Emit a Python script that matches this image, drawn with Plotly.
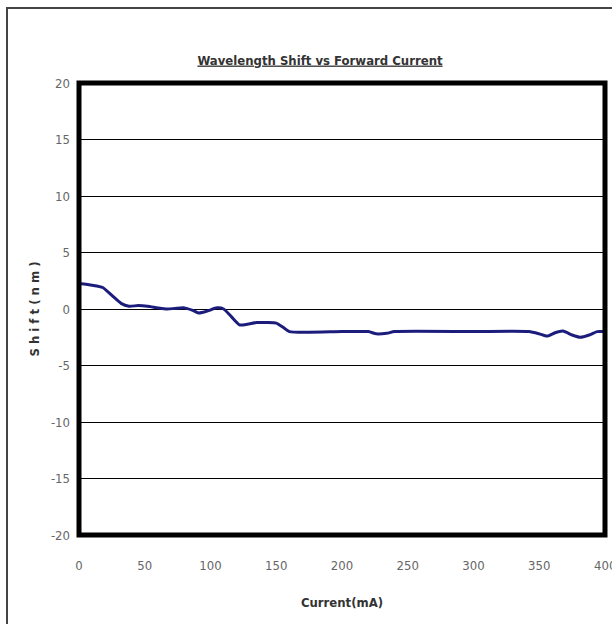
import plotly.graph_objects as go

current = [0, 10, 18, 25, 32, 38, 45, 52, 60, 67, 73, 80, 86, 91, 97, 105, 110,
           116, 122, 128, 135, 143, 150, 155, 160, 200, 220, 226, 234, 240, 300,
           342, 350, 356, 362, 368, 375, 381, 388, 394, 400]
shift = [2.25, 2.1, 1.9, 1.2, 0.5, 0.25, 0.3, 0.25, 0.1, 0.0, 0.05, 0.1, -0.1,
         -0.35, -0.2, 0.1, 0.0, -0.7, -1.4, -1.35, -1.2, -1.2, -1.25, -1.6, -2.0,
         -2.0, -2.0, -2.2, -2.15, -2.0, -2.0, -2.0, -2.2, -2.4, -2.1, -1.95, -2.3,
         -2.5, -2.3, -2.0, -2.0]

x_ticks = [0, 50, 100, 150, 200, 250, 300, 350, 400]
y_ticks = [-20, -15, -10, -5, 0, 5, 10, 15, 20]

FONT = "Liberation Sans Narrow, DejaVu Sans Condensed, Arial Narrow, Liberation Sans, sans-serif"

fig = go.Figure()
fig.add_trace(go.Scatter(
    x=current, y=shift, mode="lines",
    line=dict(color="#1c1c7c", width=3, shape="spline", smoothing=0.6),
    hoverinfo="skip", showlegend=False,
))

# last tick label (plotly drops it at the edge); reference shows it clipped
fig.add_annotation(
    x=x_ticks[-1], y=0, xref="x", yref="paper", yshift=-30,
    text=str(x_ticks[-1]), showarrow=False, xanchor="center", yanchor="middle",
    font=dict(family=FONT, size=13, color="#666666"),
)

fig.update_layout(
    width=612, height=624,
    margin=dict(l=79, r=7, t=83, b=89),
    paper_bgcolor="white", plot_bgcolor="white",
    font=dict(family=FONT, color="#555555", size=12),
    title=dict(
        text="<u><b>Wavelength Shift vs Forward Current</b></u>",
        x=320 / 612, xanchor="center", y=1 - 60 / 624, yanchor="middle",
        font=dict(family=FONT, size=13, color="#333333"),
    ),
    xaxis=dict(
        range=[0, 400], tickvals=x_ticks[:-1], ticktext=[str(v) for v in x_ticks[:-1]],
        showgrid=False, zeroline=False, showline=False, ticks="",
        ticklabelstandoff=21,
        title=dict(text="<b>Current(mA)</b>", standoff=25,
                   font=dict(family=FONT, size=13, color="#333333")),
        tickfont=dict(family=FONT, size=13, color="#666666"),
    ),
    yaxis=dict(
        range=[-20, 20], tickvals=y_ticks, ticktext=[str(v) for v in y_ticks],
        showgrid=True, gridcolor="#000000", gridwidth=1.3,
        zeroline=False, showline=False, ticks="",
        ticklabelstandoff=8,
        title=dict(text="<b>S h i f t ( n m )</b>", standoff=8,
                   font=dict(family=FONT, size=13, color="#333333")),
        tickfont=dict(family=FONT, size=13, color="#666666"),
    ),
    shapes=[
        dict(type="rect", xref="paper", yref="paper", x0=0, x1=1, y0=0, y1=1,
             line=dict(color="black", width=5), layer="above"),
        dict(type="rect", xref="paper", yref="paper",
             x0=(7 - 79) / 526, x1=(616 - 79) / 526,
             y0=(535 - 640) / 452, y1=(535 - 8) / 452,
             line=dict(color="#444444", width=2), layer="above"),
    ],
)

fig.write_html(
    "out.html",
    config={"displayModeBar": False},
    post_script="document.body.style.margin='0';document.body.style.overflow='hidden';",
)
